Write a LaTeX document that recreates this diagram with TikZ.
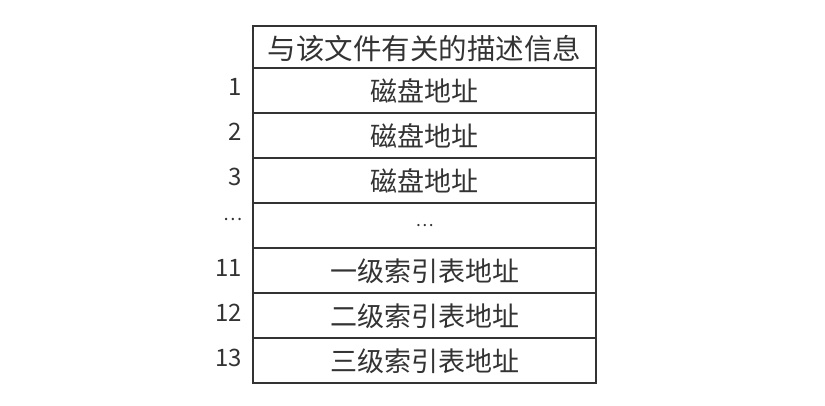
\documentclass[tikz,border=0pt]{standalone}
\usepackage{fontspec}
\setmainfont{Noto Sans CJK SC}
\definecolor{linec}{HTML}{333333}
\definecolor{textc}{HTML}{333333}
\begin{document}
\begin{tikzpicture}[x=1pt,y=-1pt,
  cell/.style={draw=linec, line width=1.4pt, rectangle, inner sep=0pt,
    minimum width=343pt, minimum height=45pt, text=textc, text depth=0pt,
    font=\fontsize{27}{30}\selectfont},
  num/.style={anchor=east, inner sep=0pt, text=textc,
    font=\fontsize{24}{27}\selectfont}]
\useasboundingbox[fill=white] (0,0) rectangle (825,405);
\node[cell, minimum height=42pt, font=\fontsize{28.5}{31}\selectfont] (h) at (424.5,47) {与该文件有关的描述信息};
\node[cell] (r1) at (424.5,90.5) {磁盘地址};
\node[cell] (r2) at (424.5,135.5) {磁盘地址};
\node[cell] (r3) at (424.5,180.5) {磁盘地址};
\node[cell] (r4) at (424.5,225.5) {\fontsize{17}{19}\selectfont …};
\node[cell] (r11) at (424.5,270.5) {一级索引表地址};
\node[cell] (r12) at (424.5,315.5) {二级索引表地址};
\node[cell] (r13) at (424.5,360.5) {三级索引表地址};
\node[num] (n1) at (242,87) {1};
\node[num] (n2) at (242,132) {2};
\node[num] (n3) at (242,177) {3};
\node[num] (n4) at (243,219) {\fontsize{18}{20}\selectfont …};
\node[num] (n11) at (242,268) {11};
\node[num] (n12) at (242,313) {12};
\node[num] (n13) at (242,358) {13};
\end{tikzpicture}
\end{document}
